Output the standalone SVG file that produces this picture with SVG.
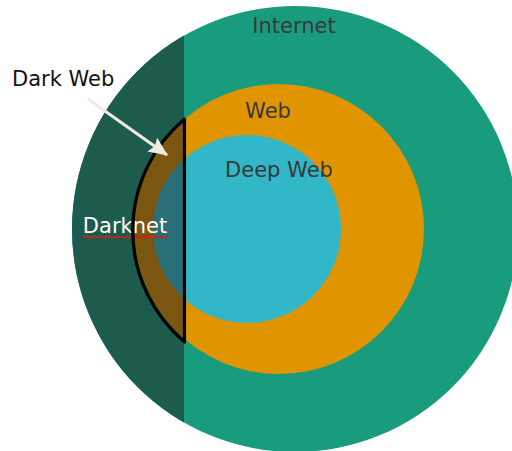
<svg xmlns="http://www.w3.org/2000/svg" width="512" height="451" viewBox="0 0 512 451">
  <style>
    .label { font-family: "DejaVu Sans", "Liberation Sans", sans-serif; font-size: 21px; }
    .dim { fill: #383838; }
  </style>
  <defs>
    <!-- left slice of the rings, shaded as the darknet zone -->
    <clipPath id="left-slice">
      <rect x="0" y="0" width="184" height="451"/>
    </clipPath>
    <marker id="arrowhead" viewBox="0 0 20 20" refX="18" refY="10" markerWidth="20" markerHeight="20" markerUnits="userSpaceOnUse" orient="auto">
      <path d="M0,1.5 L19,10 L0,18.5 L3,10 Z" fill="#eeece0"/>
    </marker>
  </defs>

  <rect width="512" height="451" fill="#ffffff"/>

  <g id="internet">
    <circle cx="295" cy="229" r="223" fill="#199c7d"/>
    <text class="label dim" x="294" y="33" text-anchor="middle">Internet</text>
  </g>

  <g id="web">
    <circle cx="279" cy="229" r="145" fill="#e09400"/>
    <text class="label dim" x="268" y="118" text-anchor="middle">Web</text>
  </g>

  <g id="deep-web">
    <circle cx="247" cy="229" r="94" fill="#32b7c8"/>
    <text class="label dim" x="279" y="177" text-anchor="middle">Deep Web</text>
  </g>

  <g id="darknet">
    <g clip-path="url(#left-slice)">
      <circle cx="295" cy="229" r="223" fill="#1d5c4c"/>
      <circle cx="279" cy="229" r="145" fill="#7a5610"/>
      <circle cx="247" cy="229" r="94" fill="#2a6e78"/>
    </g>
    <text class="label" x="125" y="233" text-anchor="middle" fill="#ffffff">Darknet</text>
    <!-- spell-check squiggle under the label -->
    <path d="M83,236 l2,2 l2,-2 l2,2 l2,-2 l2,2 l2,-2 l2,2 l2,-2 l2,2 l2,-2 l2,2 l2,-2 l2,2 l2,-2 l2,2 l2,-2 l2,2 l2,-2 l2,2 l2,-2 l2,2 l2,-2 l2,2 l2,-2 l2,2 l2,-2 l2,2 l2,-2 l2,2 l2,-2 l2,2 l2,-2 l2,2 l2,-2 l2,2 l2,-2 l2,2 l2,-2 l2,2 l2,-2 l2,2 l2,-2" fill="none" stroke="#d42020" stroke-width="1.2"/>
  </g>

  <g id="dark-web">
    <path d="M184.5,119 A146,146 0 0 0 184.5,342 Z" fill="none" stroke="#000000" stroke-width="3.2" stroke-linejoin="round"/>
    <text class="label" x="12" y="86" fill="#111111">Dark Web</text>
  </g>

  <g id="connectors">
    <line x1="88" y1="99" x2="167" y2="155" stroke="#eeece0" stroke-width="3" marker-end="url(#arrowhead)"/>
  </g>
</svg>
